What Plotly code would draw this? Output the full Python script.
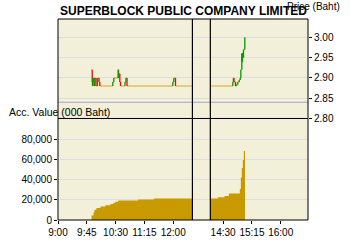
import plotly.graph_objects as go

# ---------------- data ----------------
title_text = "SUPERBLOCK PUBLIC COMPANY LIMITED"
price_axis_label = "Price (Baht)"
value_axis_label = "Acc. Value (000 Baht)"

morning_close = "12:30:00"
afternoon_open = "14:10:00"
lunch_compress_min = 72

prev_close = 2.84

am_trade_times = ["09:52:20", "09:53:26", "09:53:55", "09:54:23", "09:55:56", "09:56:34",
                  "09:57:30", "09:59:23", "10:01:43", "10:04:04", "10:05:19", "10:25:38",
                  "10:27:11", "10:34:04", "10:34:32", "10:35:19", "10:36:34", "10:37:39",
                  "10:44:41", "10:46:15", "10:47:49", "11:59:23", "12:00:56", "12:03:35",
                  "12:30:00"]
am_trade_prices = [2.92, 2.89, 2.88, 2.90, 2.89, 2.88,
                   2.90, 2.88, 2.90, 2.89, 2.88, 2.89,
                   2.90, 2.92, 2.90, 2.91, 2.89, 2.88,
                   2.89, 2.90, 2.88, 2.89, 2.90, 2.88,
                   2.88]

pm_trade_times = ["14:10:00", "14:45:08", "14:46:05", "14:47:00", "14:49:20", "14:50:55",
                  "14:52:55", "14:55:08", "14:56:41", "14:57:38", "14:59:12", "14:59:50",
                  "15:00:17", "15:01:05", "15:01:50", "15:03:53"]
pm_trade_prices = [2.88, 2.89, 2.90, 2.89, 2.88, 2.884,
                   2.89, 2.895, 2.90, 2.92, 2.96, 2.94,
                   2.96, 2.95, 2.97, 3.00]

am_value_times = ["09:52:20", "09:55:30", "09:57:00", "10:00:10", "10:06:25", "10:14:10",
                  "10:22:00", "10:26:40", "10:29:50", "10:34:05", "11:05:20", "11:29:40",
                  "12:30:00"]
am_values = [4400, 7600, 10100, 12000, 13400, 14600,
             15900, 17200, 18200, 19400, 20400, 21300,
             21300]

pm_value_times = ["14:10:00", "14:21:40", "14:32:10", "14:38:55", "14:56:05", "14:57:40",
                  "14:59:10", "15:00:45", "15:02:20", "15:04:10"]
pm_values = [21300, 22600, 23900, 26400, 30900, 42100,
             51700, 59600, 68500, 68500]

time_tick_labels = ["9:00", "9:45", "10:30", "11:15", "12:00", "14:30", "15:15", "16:00"]
price_ticks = [2.80, 2.85, 2.90, 2.95, 3.00]
value_ticks = [0, 20000, 40000, 60000, 80000]

# ---------------- helpers ----------------
def clock_min(t):
    parts = [int(p) for p in t.split(":")]
    while len(parts) < 3:
        parts.append(0)
    return (parts[0] - 9) * 60 + parts[1] + parts[2] / 60.0

CLOSE_AM = clock_min(morning_close)

def to_axis(t):
    m = clock_min(t)
    return m if m <= CLOSE_AM + 1e-9 else m - lunch_compress_min

def segments(times, prices):
    hx, hy, ux, uy, dx, dy = [], [], [], [], [], []
    xs = [to_axis(t) for t in times]
    for i in range(1, len(xs)):
        hx += [xs[i - 1], xs[i], None]
        hy += [prices[i - 1], prices[i - 1], None]
        if prices[i] > prices[i - 1]:
            ux += [xs[i], xs[i], None]
            uy += [prices[i - 1], prices[i], None]
        elif prices[i] < prices[i - 1]:
            dx += [xs[i], xs[i], None]
            dy += [prices[i - 1], prices[i], None]
    return hx, hy, ux, uy, dx, dy

FONT = "Liberation Sans, Arial, sans-serif"
BG = "#F2F0D8"
GOLD = "#C89A00"
FLAT = "#D9A52A"
UP = "#009900"
DOWN = "#FF0000"
GRID = "#DCDCE4"

fig = go.Figure()

# accumulated value areas
for vt, vv in ((am_value_times, am_values), (pm_value_times, pm_values)):
    fig.add_trace(go.Scatter(x=[to_axis(t) for t in vt], y=vv, mode="lines",
                             line=dict(width=0, shape="hv", color=GOLD),
                             fill="tozeroy", fillcolor=GOLD,
                             xaxis="x", yaxis="y2", hoverinfo="skip", showlegend=False))

# price tick lines
for tt, pp in ((am_trade_times, am_trade_prices), (pm_trade_times, pm_trade_prices)):
    hx, hy, ux, uy, dx, dy = segments(tt, pp)
    fig.add_trace(go.Scatter(x=hx, y=hy, mode="lines", line=dict(color=FLAT, width=1.2),
                             xaxis="x2", yaxis="y", hoverinfo="skip", showlegend=False))
    fig.add_trace(go.Scatter(x=dx, y=dy, mode="lines", line=dict(color=DOWN, width=1.3),
                             xaxis="x2", yaxis="y", hoverinfo="skip", showlegend=False))
    fig.add_trace(go.Scatter(x=ux, y=uy, mode="lines", line=dict(color=UP, width=1.3),
                             xaxis="x2", yaxis="y", hoverinfo="skip", showlegend=False))

X_RANGE = [0, 390.6]
SPLIT = 0.505

tick_pos = [to_axis(t) for t in time_tick_labels]

fig.update_layout(
    width=350, height=250,
    margin=dict(l=58, r=42, t=19, b=23),
    paper_bgcolor="white", plot_bgcolor=BG,
    font=dict(family=FONT, size=10, color="black"),
    showlegend=False,
    xaxis=dict(domain=[0, 1], anchor="y2", range=X_RANGE, tickmode="array",
               tickvals=tick_pos, ticktext=time_tick_labels, ticks="outside",
               ticklen=3, tickcolor="black", showgrid=False, zeroline=False,
               showline=False, tickfont=dict(size=10)),
    xaxis2=dict(domain=[0, 1], anchor="y", matches="x", range=X_RANGE,
                showticklabels=False, showgrid=False, zeroline=False, ticks=""),
    yaxis=dict(domain=[SPLIT, 1], anchor="x2", side="right", range=[2.80, 3.045],
               tickmode="array", tickvals=price_ticks, tickformat=".2f",
               ticks="outside", ticklen=3, tickcolor="black", showgrid=True,
               gridcolor=GRID, gridwidth=1, zeroline=False, showline=False,
               tickfont=dict(size=10)),
    yaxis2=dict(domain=[0, SPLIT], anchor="x", side="left", range=[0, 100800],
                tickmode="array", tickvals=value_ticks, tickformat=",d",
                ticks="outside", ticklen=3, tickcolor="black", showgrid=True,
                gridcolor=GRID, gridwidth=1, zeroline=False, showline=False,
                tickfont=dict(size=10)),
)

shapes = [
    dict(type="line", xref="x2 domain", yref="y", x0=0, x1=1, y0=prev_close, y1=prev_close,
         line=dict(color="#A9A2CC", width=1), layer="below"),
    dict(type="rect", xref="paper", yref="paper", x0=0, x1=1, y0=SPLIT, y1=1,
         line=dict(color="black", width=1)),
    dict(type="rect", xref="paper", yref="paper", x0=0, x1=1, y0=0, y1=SPLIT,
         line=dict(color="black", width=1)),
    dict(type="line", xref="x", yref="paper", x0=to_axis(morning_close), x1=to_axis(morning_close),
         y0=0, y1=1, line=dict(color="black", width=1.2)),
    dict(type="line", xref="x", yref="paper", x0=to_axis(afternoon_open), x1=to_axis(afternoon_open),
         y0=0, y1=1, line=dict(color="black", width=1.2)),
]
fig.update_layout(shapes=shapes)

fig.update_layout(annotations=[
    dict(text=price_axis_label, xref="paper", yref="paper", x=1.02, y=1.062,
         xanchor="center", yanchor="middle", showarrow=False,
         font=dict(family=FONT, size=10, color="black")),
    dict(text=value_axis_label, xref="paper", yref="paper", x=-0.205, y=0.538,
         xanchor="left", yanchor="middle", showarrow=False,
         font=dict(family=FONT, size=10.5, color="black")),
    dict(text="<b>" + title_text + "</b>", xref="paper", yref="paper", x=0, y=1.038,
         xanchor="left", yanchor="middle", showarrow=False,
         font=dict(family=FONT, size=12, color="black")),
])

fig.write_html("out.html", config={"displayModeBar": False})
